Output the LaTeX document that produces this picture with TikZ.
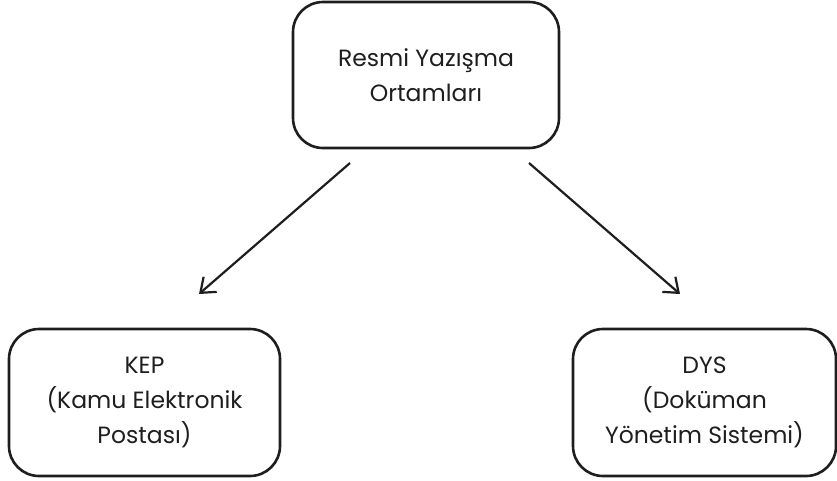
\documentclass[tikz,border=0pt]{standalone}
\usepackage{fontspec}
\setmainfont{Poppins}
\usetikzlibrary{arrows.meta}
\definecolor{ink}{HTML}{1E1E1E}
\begin{document}
\begin{tikzpicture}[x=1pt,y=-1pt,
  box/.style={draw=ink, line width=2.6pt, rounded corners=30pt, align=center,
    inner sep=0pt, font=\fontsize{23.5}{35}\selectfont, text=ink},
  link/.style={draw=ink, line width=2.2pt, -{Straight Barb[length=13pt,width=20pt]}}]
\useasboundingbox (0,0) rectangle (837,480);
\node[box, minimum width=266pt, minimum height=146pt] (top) at (426,75) {Resmi Yazışma\\Ortamları};
\node[box, minimum width=271pt, minimum height=147pt] (kep) at (144.5,402.5) {KEP\\(Kamu Elektronik\\Postası)};
\node[box, minimum width=263pt, minimum height=147pt] (dys) at (704.5,402.5) {DYS\\(Doküman\\Yönetim Sistemi)};
\coordinate (a1) at (350,163);
\coordinate (b1) at (199,294);
\coordinate (a2) at (529,163);
\coordinate (b2) at (680,294);
\draw[link] (a1) -- (b1);
\draw[link] (a2) -- (b2);
\end{tikzpicture}
\end{document}
